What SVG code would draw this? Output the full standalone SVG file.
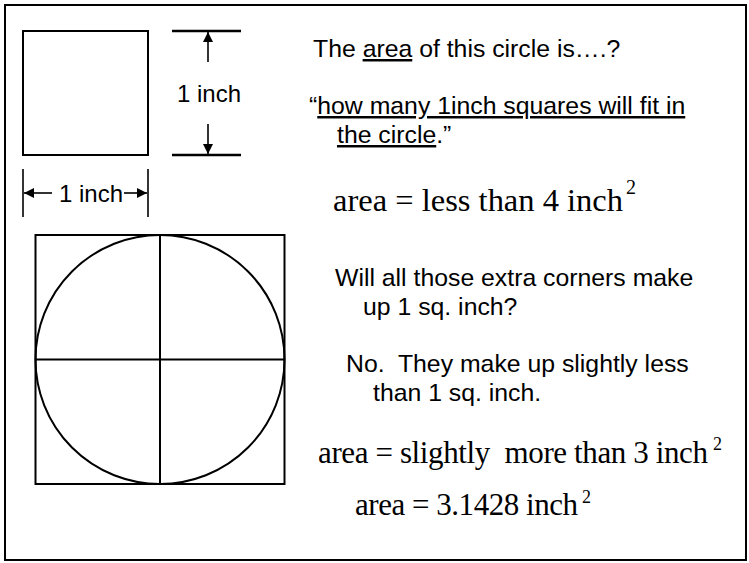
<svg xmlns="http://www.w3.org/2000/svg" width="749" height="563" viewBox="0 0 749 563">
<style>
.ln{fill:none;stroke:#000;stroke-width:2}
.th{fill:none;stroke:#000;stroke-width:1.6}
.sans{font-family:"Liberation Sans",Arial,sans-serif;font-size:24.8px;fill:#000;white-space:pre}
.dim{font-family:"Liberation Sans",Arial,sans-serif;font-size:24px;fill:#000}
.serif{font-family:"Liberation Serif","Times New Roman",serif;fill:#000;white-space:pre}
.u{text-decoration:underline}
</style>
<defs>
<marker id="ah" viewBox="0 0 10 10" refX="10" refY="5" markerUnits="userSpaceOnUse" markerWidth="11" markerHeight="10" orient="auto">
<path d="M0,0 L10,5 L0,10 z" fill="#000"/>
</marker>
</defs>
<rect x="5" y="5" width="741" height="555" fill="#fff" stroke="#000" stroke-width="2"/>
<g id="unit-square">
<rect class="ln" x="23" y="31" width="125" height="124"/>
</g>
<g id="circle-square">
<rect class="ln" x="35.5" y="235" width="249" height="249"/>
<circle class="ln" cx="160" cy="359.5" r="124.5"/>
<line class="ln" x1="160" y1="235" x2="160" y2="484"/>
<line class="ln" x1="35.5" y1="359.5" x2="284.5" y2="359.5"/>
</g>
<g id="connectors">
<line x1="172" y1="31" x2="241" y2="31" stroke="#000" stroke-width="2.5"/>
<line x1="172" y1="155" x2="241" y2="155" stroke="#000" stroke-width="2.5"/>
<line class="th" x1="208" y1="62" x2="208" y2="32" marker-end="url(#ah)"/>
<line class="th" x1="208" y1="124" x2="208" y2="154" marker-end="url(#ah)"/>
<line class="th" x1="23" y1="169" x2="23" y2="217"/>
<line class="th" x1="148" y1="169" x2="148" y2="217"/>
<line class="th" x1="52" y1="193" x2="24" y2="193" marker-end="url(#ah)"/>
<line class="th" x1="124" y1="193" x2="147" y2="193" marker-end="url(#ah)"/>
</g>
<g id="label-height"><text class="dim" x="177" y="102">1 inch</text></g>
<g id="label-width"><text class="dim" x="59" y="202">1 inch</text></g>
<g id="question">
<text class="sans" x="313" y="57">The <tspan class="u">area</tspan> of this circle is….?</text>
<text class="sans" x="309" y="114">“<tspan class="u">how many 1inch squares will fit in</tspan></text>
<text class="sans" x="337" y="143"><tspan class="u">the circle</tspan>.”</text>
</g>
<g id="eq1">
<text class="serif" x="333" y="211" font-size="32.5" textLength="290">area = less than 4 inch</text>
<text class="serif" x="626" y="194" font-size="20">2</text>
</g>
<g id="corners-question">
<text class="sans" x="335" y="286">Will all those extra corners make</text>
<text class="sans" x="363" y="315">up 1 sq. inch?</text>
</g>
<g id="corners-answer">
<text class="sans" x="346" y="372">No.  They make up slightly less</text>
<text class="sans" x="373" y="401">than 1 sq. inch.</text>
</g>
<g id="eq2">
<text class="serif" x="318" y="463" font-size="31" textLength="390">area = slightly  more than 3 inch</text>
<text class="serif" x="713" y="450" font-size="18">2</text>
</g>
<g id="eq3">
<text class="serif" x="355" y="515" font-size="31" textLength="223">area = 3.1428 inch</text>
<text class="serif" x="582" y="503" font-size="18">2</text>
</g>
</svg>
